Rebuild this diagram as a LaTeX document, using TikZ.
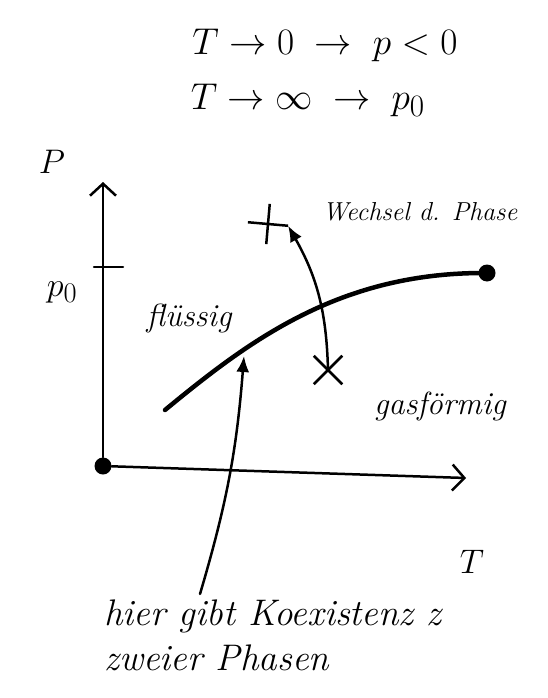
\documentclass[tikz,border=0pt]{standalone}
\usepackage{fontspec}
\usepackage{tikz}
\usetikzlibrary{arrows.meta, positioning, shapes.misc}

\begin{document}
\begin{tikzpicture}[
    x=1pt, y=-1pt,
    every node/.style={font=\itshape\fontsize{26}{32}\selectfont},
    big/.style={font=\Huge, scale=1.37},
    formula/.style={font=\Huge, scale=1.5},
    note/.style={font=\itshape\fontsize{37}{45}\selectfont, align=left, inner sep=0pt},
    pen/.style={line width=2.5pt, line cap=round, line join=round},
    axis/.style={pen, -{Straight Barb[length=12pt, width=26pt, line width=2.5pt]}},
    curve/.style={line width=4.5pt, line cap=round},
    arrow/.style={pen, -{Latex[length=16pt, width=13pt]}},
    dot/.style={circle, fill=black, inner sep=0pt, minimum size=17pt},
    crossmark/.style={cross out, draw, line width=2.5pt, minimum size=26pt, inner sep=0pt}
]
\useasboundingbox (0,0) rectangle (547,698);

% Limits
\node[formula] (lim1) at (325,45) {$T\to 0 \;\to\; p<0$};
\node[formula] (lim2) at (308,100) {$T\to\infty \;\to\; p_0$};

% Axes
\node[dot] (origin) at (103,466) {};
\coordinate (ytop) at (103,182);
\coordinate (xend) at (466,478);
\draw[axis] (origin) -- (ytop);
\draw[axis] (origin) -- (xend);
\node[big] (plabel) at (52,162) {$P$};
\node[big] (tlabel) at (472,562) {$T$};

% p0 tick
\coordinate (p0tick) at (103,267);
\draw[pen] ([xshift=-9pt]p0tick) -- ([xshift=20pt]p0tick);
\node[big] (p0label) at (62,292) {$p_0$};

% Phase boundary
\node[dot] (crit) at (487,273) {};
\draw[curve] (165,410) .. controls (250,340) and (340,272) .. (crit.center);

% Phases
\node[font=\itshape\fontsize{32}{38}\selectfont] (liquid) at (189,318) {flüssig};
\node[font=\itshape\fontsize{32}{38}\selectfont] (gas) at (440,406) {gasförmig};
\node (change) at (420,212) {Wechsel d. Phase};

% Phase change
\node[crossmark, rotate=40] (xtop) at (268,224) {};
\node[crossmark] (xbot) at (328,370) {};
\draw[arrow] (xbot.center) to[bend right=14] (xtop.south east);

% Coexistence note
\node[note, anchor=north west] (coexnote) at (104,600) {hier gibt Koexistenz z\\zweier Phasen};
\coordinate (nstart) at (200,594);
\coordinate (coex) at (244,356);
\draw[arrow] (nstart) to[bend right=6] (coex);

\end{tikzpicture}
\end{document}
